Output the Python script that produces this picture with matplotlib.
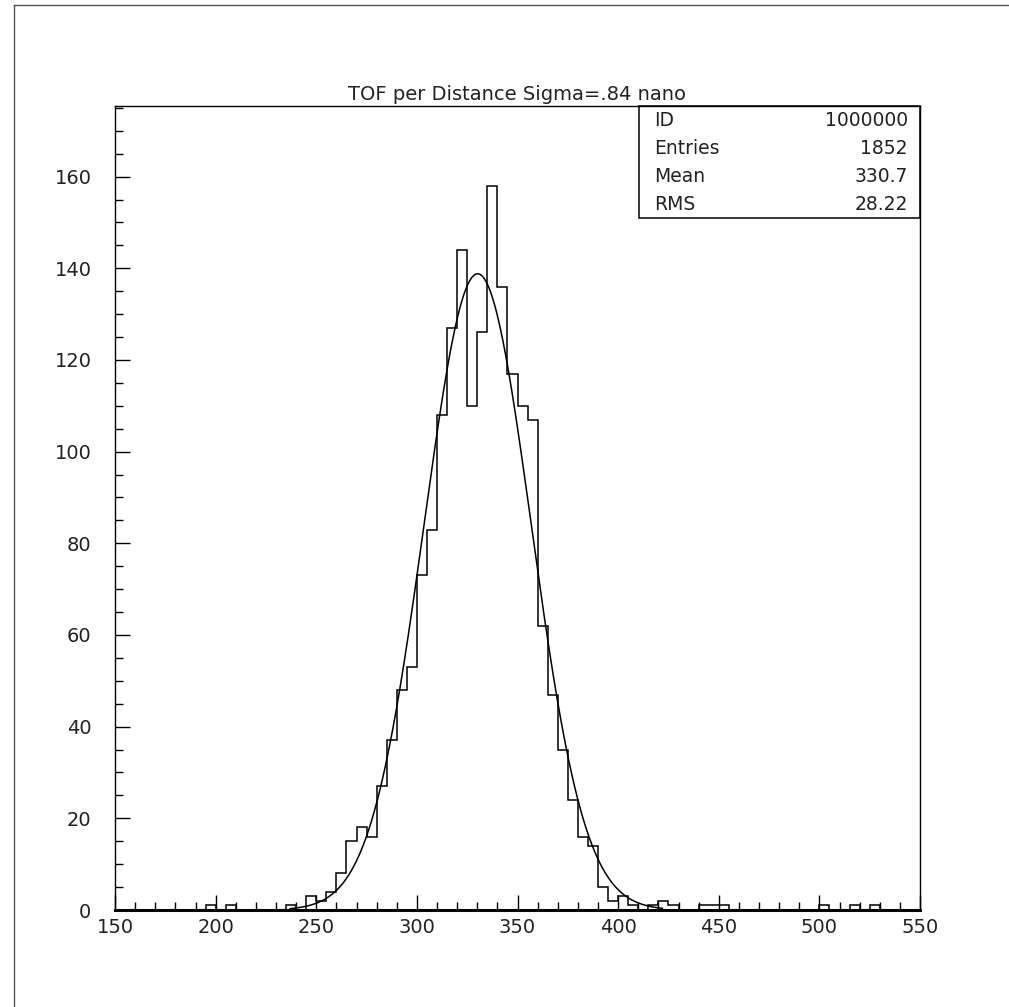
"""
TOF per distance histogram with gaussian fit, PAW style.
"""

import matplotlib
matplotlib.use("Agg")
import matplotlib.pyplot as plt
from matplotlib.lines import Line2D
import numpy as np

# histogram: 80 bins of width 5 from 150 to 550
BIN_LOW = 150
BIN_HIGH = 550
BIN_WIDTH = 5
COUNTS = [
    0, 0, 0, 0, 0, 0, 0, 0, 0, 1,            # 150-195
    0, 1, 0, 0, 0, 0, 0, 1, 0, 3,            # 200-245
    2, 4, 8, 15, 18, 16, 27, 37, 48, 53,     # 250-295
    73, 83, 108, 127, 144, 110, 126, 158, 136, 117,  # 300-345
    110, 107, 62, 47, 35, 24, 16, 14, 5, 2,  # 350-395
    3, 1, 0, 1, 2, 1, 0, 0, 1, 1,            # 400-445
    1, 0, 0, 0, 0, 0, 0, 0, 0, 0,            # 450-495
    1, 0, 0, 1, 0, 1, 0, 0, 0, 0,            # 500-545
]

# gaussian fit parameters
FIT_CONST = 138.8
FIT_MEAN = 330.2
FIT_SIGMA = 26.6
FIT_RANGE = (237, 422)

TITLE = "TOF per Distance Sigma=.84 nano"
STAT_NAMES = ["ID", "Entries", "Mean", "RMS"]
STAT_VALUES = ["1000000", "1852", "330.7", "28.22"]

W, H = 1009, 1007


def main() -> None:
    fig = plt.figure(figsize=(W / 100, H / 100), dpi=100)
    ax = fig.add_axes([115 / W, 1 - 910 / H, 805 / W, 804 / H])

    edges = np.arange(BIN_LOW, BIN_HIGH + BIN_WIDTH, BIN_WIDTH)
    ax.stairs(COUNTS, edges, color="black", linewidth=1.1)

    xf = np.linspace(FIT_RANGE[0], FIT_RANGE[1], 400)
    yf = FIT_CONST * np.exp(-0.5 * ((xf - FIT_MEAN) / FIT_SIGMA) ** 2)
    ax.plot(xf, yf, color="black", linewidth=1.1)

    ax.set_xlim(BIN_LOW, BIN_HIGH)
    ax.set_ylim(0, 175.4)

    ax.set_xticks(np.arange(150, 551, 50))
    ax.set_xticks(np.arange(150, 551, 10), minor=True)
    ax.set_yticks(np.arange(0, 161, 20))
    ax.set_yticks(np.arange(0, 176, 5), minor=True)

    ax.tick_params(which="both", direction="in", top=False, right=False,
                   color="black", width=1.0, labelsize=14, labelcolor="#222222")
    ax.tick_params(which="major", length=11)
    ax.tick_params(which="minor", length=5.5)
    ax.tick_params(axis="y", which="both", pad=17)
    ax.tick_params(axis="x", which="both", pad=6)

    for s in ax.spines.values():
        s.set_linewidth(1.0)
    ax.spines["bottom"].set_linewidth(2.2)

    ax.set_title(TITLE, fontsize=14, pad=4, color="#222222")

    # statistics box in the top right corner
    bx0, bx1 = (639 - 115) / 805, 1.0
    by0, by1 = 1 - (218 - 106) / 804, 1.0
    ax.add_patch(plt.Rectangle((bx0, by0), bx1 - bx0, by1 - by0,
                               transform=ax.transAxes, fill=False,
                               edgecolor="black", linewidth=1.1, clip_on=False))
    row_h = (by1 - by0) / len(STAT_NAMES)
    for i, (name, val) in enumerate(zip(STAT_NAMES, STAT_VALUES)):
        yy = by1 - (i + 0.5) * row_h
        ax.text((654 - 115) / 805, yy, name, transform=ax.transAxes,
                fontsize=13.5, ha="left", va="center", color="#222222")
        ax.text((908 - 115) / 805, yy, val, transform=ax.transAxes,
                fontsize=13.5, ha="right", va="center", color="#222222")

    # outer frame (left and top edges visible)
    fig.add_artist(Line2D([14 / W, 14 / W], [0, 1 - 5 / H],
                          transform=fig.transFigure, color="#555555", linewidth=1.0))
    fig.add_artist(Line2D([14 / W, 1], [1 - 5 / H, 1 - 5 / H],
                          transform=fig.transFigure, color="#555555", linewidth=1.0))

    fig.savefig("out.png", dpi=100)
    plt.close(fig)


if __name__ == "__main__":
    main()
